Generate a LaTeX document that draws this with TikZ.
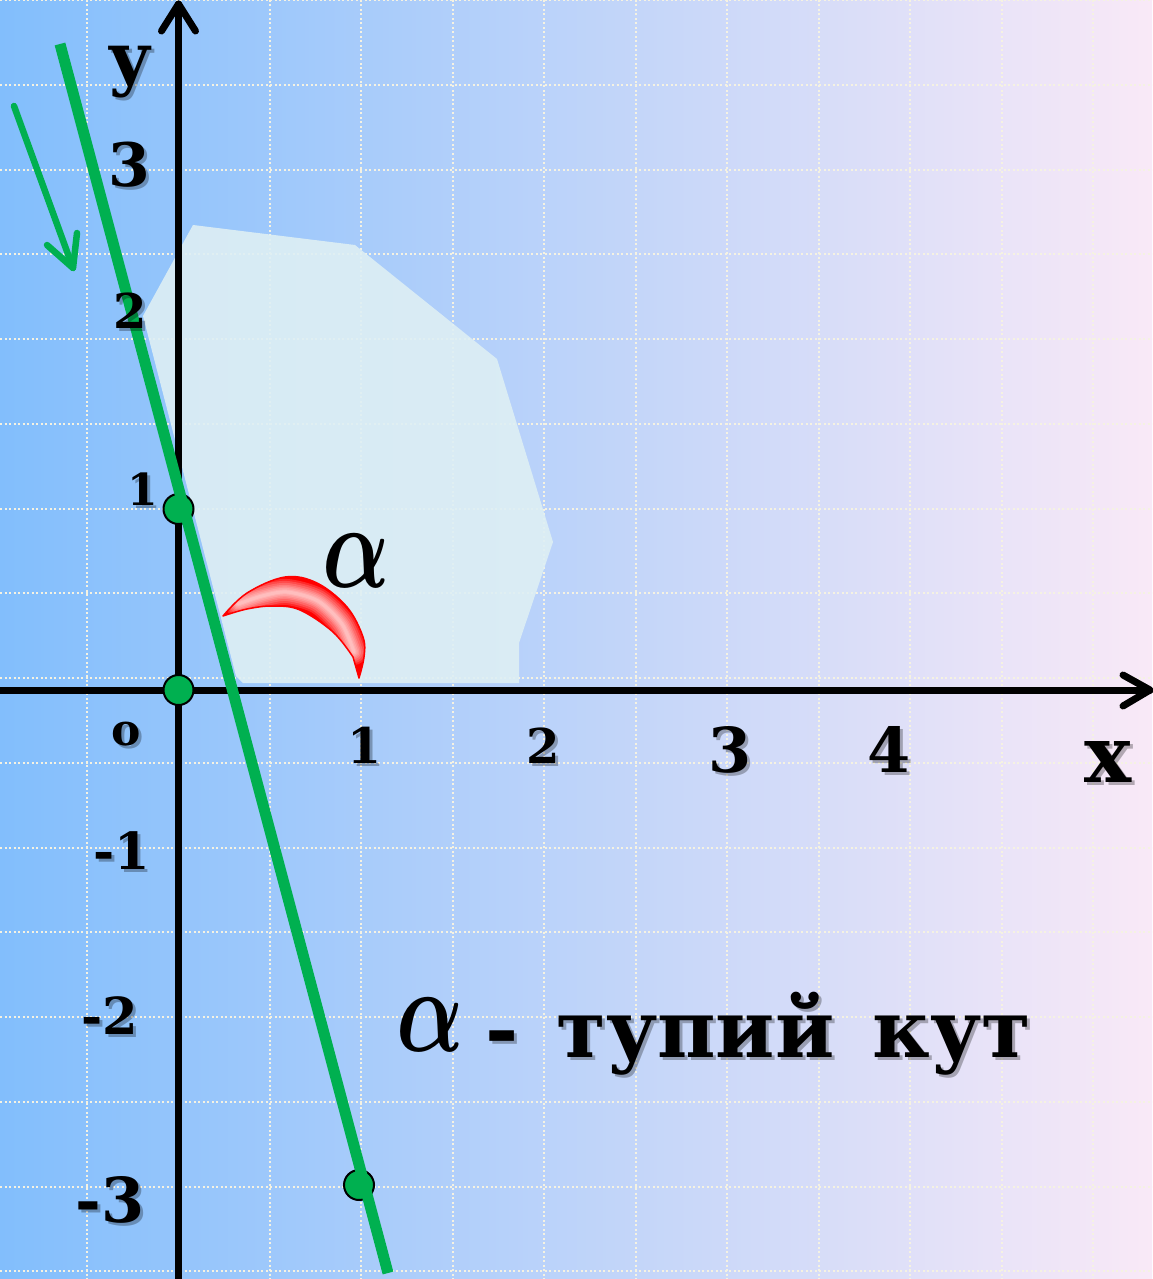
\RequirePackage{fix-cm}
\documentclass[tikz,border=0pt]{standalone}
\usepackage{fontspec}
\setmainfont{DejaVu Serif}
\usetikzlibrary{calc}
\definecolor{bgL}{RGB}{130,190,252}
\definecolor{bgR}{RGB}{249,233,247}
\definecolor{gridc}{RGB}{245,242,226}
\definecolor{regc}{RGB}{222,239,244}
\definecolor{gcol}{RGB}{0,176,80}
\tikzset{
 gridline/.style={gridc, line width=2pt, dash pattern=on 2pt off 2.5pt},
 axisline/.style={black, line width=7pt, line cap=round, line join=round},
 greenline/.style={gcol, line width=11pt},
 greenarrow/.style={gcol, line width=6.5pt, line cap=round, line join=round},
 gdot/.style={circle, fill=gcol, draw=black, line width=2pt, minimum size=30pt, inner sep=0pt},
 lbl/.style={inner sep=0pt},
 shd/.style={text=black, opacity=0.28, xshift=3pt, yshift=-3pt},
 glow/.style={white, line cap=round, opacity=0.16},
}
\newcommand\shlabel[4]{%
 \node[lbl,shd,font=\bfseries\fontsize{#3}{#3}\selectfont] (#1s) at (#2) {#4};
 \node[lbl,font=\bfseries\fontsize{#3}{#3}\selectfont] (#1) at (#2) {#4};}
\newcommand\bigalpha{{\fontsize{120}{120}\selectfont\boldmath\scalebox{0.74}[1]{$\alpha$}}}
\begin{document}
\begin{tikzpicture}[x=1pt,y=-1pt]
\useasboundingbox (0,0) rectangle (1152,1279);
\shade[left color=bgL, right color=bgR] (0,0) rectangle (1152,1279);
% grid
\foreach \k in {0,...,15} \draw[gridline] (0,{84.75*\k}) -- (1152,{84.75*\k});
\foreach \k in {1,...,12} \draw[gridline] ({-5+91.5*\k},0) -- ({-5+91.5*\k},1279);
% light region
\fill[regc, opacity=0.9] (193,225) -- (355,245) -- (497,359) -- (553,542) -- (519,643)
  -- (519,683) -- (243,683) -- (236,676) -- (143,316) -- cycle;
% axes
\coordinate (xs) at (0,690); \coordinate (xe) at (1150,690);
\coordinate (ys) at (178.5,1279); \coordinate (ye) at (178.5,4);
\draw[axisline] (xs) -- (xe);
\draw[axisline] (xe) ++(-27,-15) -- (xe) -- ++(-27,16);
\draw[axisline] (ys) -- (ye);
\draw[axisline] (ye) ++(-17,27) -- (ye) -- ++(17,27);
% points
\node[gdot] (p1) at (178.5,509) {};
\node[gdot] (p0) at (178.5,690) {};
\node[gdot] (p3) at (359,1185) {};
% green line
\coordinate (gt) at (60,44); \coordinate (gb) at (388,1273);
\draw[greenline] (gt) -- (gb);
% green arrow
\coordinate (as) at (14,106); \coordinate (ae) at (73,268);
\draw[greenarrow] (as) -- (ae);
\draw[greenarrow] (ae) ++(-26,-23) -- (ae) -- ++(4,-35);
% red crescent
\def\crescent{plot[smooth, tension=0.6] coordinates {(223,616) (247,593) (285,577) (317,583) (347,607) (363,637) (364,657) (359,678)}
  -- plot[smooth, tension=0.6] coordinates {(353,657) (333,632) (300,610) (273,606) (247,609) (223,616)} -- cycle}
\def\midline{plot[smooth] coordinates {(238,604) (262,596) (287,592) (318,601) (342,624) (354,652)}}
\fill[red] \crescent;
\begin{scope}
\clip \crescent;
\foreach \w in {26,22,18,14,11,8,5,3} \draw[glow, line width=\w pt] \midline;
\end{scope}
\draw[red, line width=1.5pt, line join=round] \crescent;
% alpha labels
\node[lbl] (a1) at (356,561) {\bigalpha};
\node[lbl] (a2) at (430,1025) {\bigalpha};
% axis labels
\shlabel{ly}{130,72}{70}{y}
\shlabel{y3}{129,165}{60}{3}
\shlabel{y2}{130,311}{48}{2}
\shlabel{y1}{143,489}{44}{1}
\shlabel{o}{126,734}{44}{o}
\shlabel{ym1}{122,851}{51}{-1}
\shlabel{ym2}{110,1016}{51}{-2}
\shlabel{ym3}{110,1200}{62}{-3}
\shlabel{x1}{365,745}{49}{1}
\shlabel{x2}{543,746}{48}{2}
\shlabel{x3}{730,750}{62}{3}
\shlabel{x4}{889,749}{62}{4}
\shlabel{lx}{1108,762}{79}{x}
% caption
\node[lbl,shd,anchor=base west,font=\bfseries\fontsize{80}{80}\selectfont] (caps) at (485,1057) {\spaceskip=38pt\relax - тупий кут};
\node[lbl,anchor=base west,font=\bfseries\fontsize{80}{80}\selectfont] (cap) at (485,1057) {\spaceskip=38pt\relax - тупий кут};
\end{tikzpicture}
\end{document}
